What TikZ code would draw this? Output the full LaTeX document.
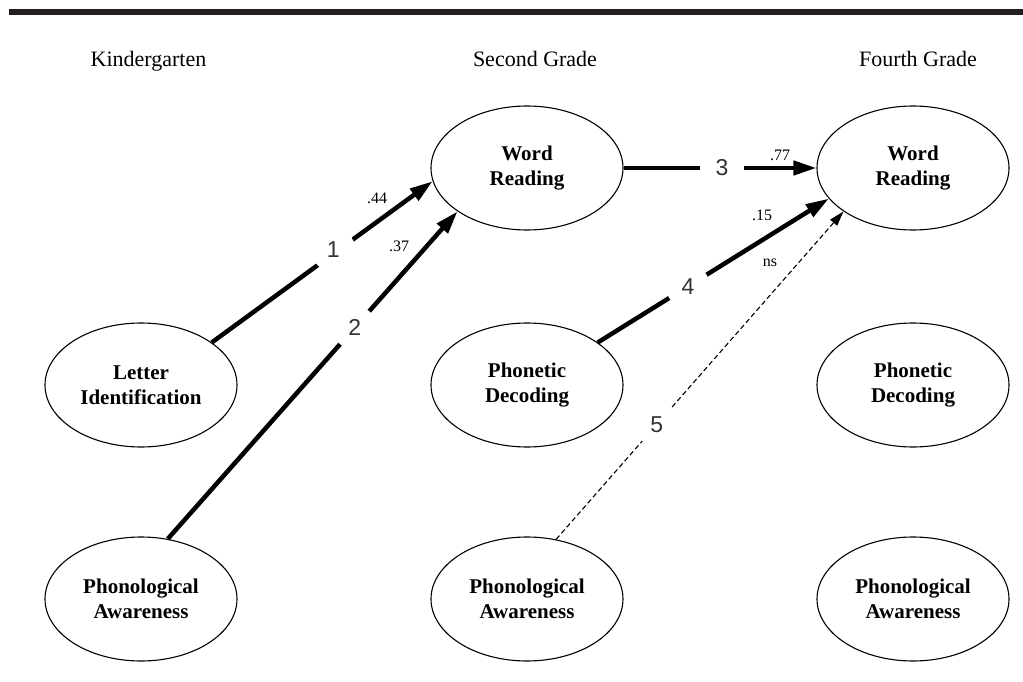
\documentclass[tikz,border=0pt]{standalone}
\usepackage{fontspec}
\setmainfont{Liberation Serif}
\newfontfamily\numfont{Liberation Sans}
\usetikzlibrary{arrows.meta,shapes.geometric}
\definecolor{barc}{HTML}{231F20}
\definecolor{numc}{HTML}{333333}
\begin{document}
\begin{tikzpicture}[x=1pt,y=-1pt,
  var/.style={ellipse, draw, line width=1.1pt, minimum width=192pt, minimum height=124pt,
    inner sep=0pt, align=center, font=\fontsize{21}{25}\selectfont\bfseries},
  head/.style={anchor=base, inner sep=0pt, font=\fontsize{22}{26}\selectfont},
  pathsig/.style={line width=4.5pt, -{Triangle[length=23pt,width=14pt]}},
  pathns/.style={line width=1.1pt, dash pattern=on 5pt off 3pt, -{Triangle[length=15pt,width=9pt]}},
  numlab/.style={circle, fill=white, inner sep=0pt, minimum size=44pt, text=numc,
    font=\numfont\fontsize{23}{26}\selectfont},
  coef/.style={inner sep=0pt, font=\fontsize{16}{18}\selectfont}
]
\useasboundingbox (0,0) rectangle (1023,682);
\fill[barc] (9,9) rectangle (1023,15);

% column headers
\node[head] (hK) at (148.5,67) {Kindergarten};
\node[head] (h2) at (535,67) {Second Grade};
\node[head] (h4) at (918,67) {Fourth Grade};

% variables
\node[var] (L1)  at (141,385) {Letter\\Identification};
\node[var] (PA1) at (141,599) {Phonological\\Awareness};
\node[var] (W2)  at (527,168) {Word\\Reading};
\node[var] (D2)  at (527,385) {Phonetic\\Decoding};
\node[var] (PA2) at (527,599) {Phonological\\Awareness};
\node[var] (W4)  at (913,168) {Word\\Reading};
\node[var] (D4)  at (913,385) {Phonetic\\Decoding};
\node[var] (PA4) at (913,599) {Phonological\\Awareness};

% paths
\draw[pathsig] (L1.31)  -- node[numlab, pos=0.55, yshift=4pt] (n1) {1} (W2.188);
\draw[pathsig] (PA1.66) -- node[numlab, pos=0.645] (n2) {2} (W2.212);
\draw[pathsig] (W2.east) -- node[numlab, pos=0.51] (n3) {3} (W4.west);
\draw[pathsig] (D2.31)  -- node[numlab, pos=0.39] (n4) {4} (W4.200);
\draw[pathns]  (PA2.64) -- node[numlab, pos=0.35] (n5) {5} (W4.212);

% coefficients
\node[coef] (c1) at (377,198) {.44};
\node[coef] (c2) at (399,246) {.37};
\node[coef] (c3) at (780,155) {.77};
\node[coef] (c4) at (762,215) {.15};
\node[coef] (c5) at (770,263) {ns};
\end{tikzpicture}
\end{document}
